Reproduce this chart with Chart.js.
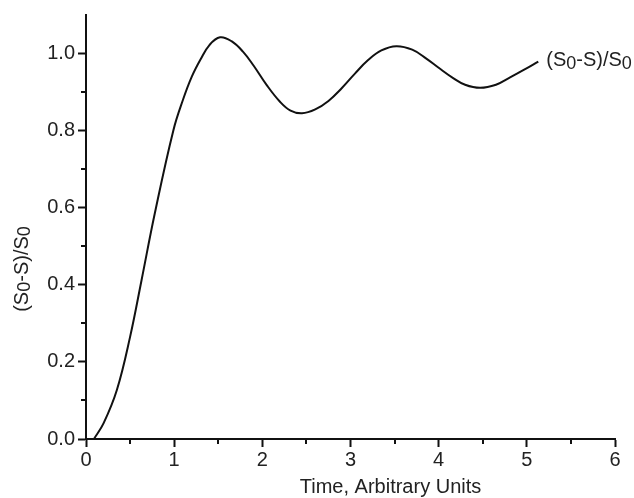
<!DOCTYPE html>
<html>
<head>
<meta charset="utf-8">
<script src="https://cdn.jsdelivr.net/npm/chart.js@4.4.1/dist/chart.umd.min.js"></script>
<style>
  html, body { margin: 0; padding: 0; background: #fff; }
  #wrap { width: 634px; height: 498px; }
</style>
</head>
<body>
<div id="wrap"><canvas id="response"></canvas></div>
<script>
// response curve, time in arbitrary units
const timeValues = [0.09, 0.2, 0.35, 0.5, 0.63, 0.78, 0.99, 1.1, 1.2, 1.3, 1.4, 1.52, 1.65, 1.78, 1.9, 2.05, 2.2, 2.32, 2.45, 2.6, 2.75, 2.9, 3.05, 3.2, 3.35, 3.52, 3.7, 3.86, 4.0, 4.16, 4.3, 4.47, 4.65, 4.81, 4.97, 5.13];
const signalValues = [0, 0.041, 0.127, 0.265, 0.412, 0.585, 0.8, 0.88, 0.94, 0.985, 1.022, 1.042, 1.032, 1.005, 0.969, 0.918, 0.875, 0.852, 0.845, 0.855, 0.877, 0.91, 0.948, 0.983, 1.008, 1.019, 1.01, 0.987, 0.963, 0.937, 0.919, 0.911, 0.919, 0.938, 0.958, 0.979];

const xMajorTicks = [0, 1, 2, 3, 4, 5, 6];
const xMinorTicks = [0.5, 1.5, 2.5, 3.5, 4.5, 5.5];
const yMajorTicks = [0, 0.2, 0.4, 0.6, 0.8, 1.0];
const yMinorTicks = [0.1, 0.3, 0.5, 0.7, 0.9];

const seriesName = ['(S', '0', '-S)/S', '0'];
const xTitle = 'Time, Arbitrary Units';

const FONT = '"Liberation Sans", Arial, sans-serif';
const SIZE = 20;

// draws text pieces, every second piece lowered like a subscript
function drawSubText(ctx, parts, x, y) {
  let cx = x;
  parts.forEach((p, i) => {
    const sub = i % 2 === 1;
    ctx.font = (sub ? SIZE - 2 : SIZE) + 'px ' + FONT;
    ctx.fillText(p, cx, y + (sub ? 3 : 0));
    cx += ctx.measureText(p).width;
  });
}

function subTextWidth(ctx, parts) {
  let w = 0;
  parts.forEach((p, i) => {
    ctx.font = (i % 2 === 1 ? SIZE - 2 : SIZE) + 'px ' + FONT;
    w += ctx.measureText(p).width;
  });
  return w;
}

const extras = {
  id: 'extras',
  afterDraw(chart) {
    const ctx = chart.ctx;
    const xs = chart.scales.x, ys = chart.scales.y;
    const x0 = xs.left, y0 = ys.bottom;
    ctx.save();
    ctx.strokeStyle = '#111';
    ctx.lineWidth = 2;
    // minor ticks
    ctx.beginPath();
    xMinorTicks.forEach(v => {
      const px = Math.round(xs.getPixelForValue(v));
      ctx.moveTo(px, y0);
      ctx.lineTo(px, y0 + 5);
    });
    yMinorTicks.forEach(v => {
      const py = Math.round(ys.getPixelForValue(v));
      ctx.moveTo(x0, py);
      ctx.lineTo(x0 - 5, py);
    });
    ctx.stroke();

    ctx.fillStyle = '#222';
    ctx.textBaseline = 'middle';
    ctx.textAlign = 'left';
    // series label at the curve end
    const n = timeValues.length - 1;
    const lx = xs.getPixelForValue(timeValues[n]) + 8;
    const ly = ys.getPixelForValue(signalValues[n]) - 1;
    drawSubText(ctx, seriesName, lx, ly);

    // x axis title
    ctx.font = SIZE + 'px ' + FONT;
    ctx.textAlign = 'center';
    ctx.textBaseline = 'alphabetic';
    ctx.fillText(xTitle, (xs.left + xs.right) / 2 + 40, 493);

    // y axis title, rotated
    ctx.textAlign = 'left';
    ctx.textBaseline = 'middle';
    const w = subTextWidth(ctx, seriesName);
    ctx.translate(22, (ys.top + ys.bottom) / 2 + 42);
    ctx.rotate(-Math.PI / 2);
    drawSubText(ctx, seriesName, -w / 2, 0);
    ctx.restore();
  }
};

new Chart(document.getElementById('response'), {
  type: 'scatter',
  data: {
    datasets: [{
      data: timeValues.map((t, i) => ({ x: t, y: signalValues[i] })),
      showLine: true,
      borderColor: '#111',
      borderWidth: 2,
      pointRadius: 0,
      tension: 0.4
    }]
  },
  options: {
    responsive: true,
    maintainAspectRatio: false,
    animation: false,
    layout: { padding: { top: 15, right: 19, left: 0, bottom: 0 } },
    plugins: { legend: { display: false }, tooltip: { enabled: false } },
    scales: {
      x: {
        type: 'linear',
        min: 0, max: 6,
        afterBuildTicks: s => { s.ticks = xMajorTicks.map(v => ({ value: v })); },
        afterFit: s => { s.height = 59; },
        border: { display: true, color: '#111', width: 2 },
        grid: { drawOnChartArea: false, tickLength: 8, tickWidth: 2, tickColor: '#111' },
        ticks: { color: '#222', font: { family: FONT, size: SIZE }, padding: 1, maxRotation: 0 }
      },
      y: {
        min: 0, max: 1.1,
        afterBuildTicks: s => { s.ticks = yMajorTicks.map(v => ({ value: v })); },
        afterFit: s => { s.width = 86; },
        border: { display: true, color: '#111', width: 2 },
        grid: { drawOnChartArea: false, tickLength: 8, tickWidth: 2, tickColor: '#111' },
        ticks: { color: '#222', font: { family: FONT, size: SIZE }, padding: 3, callback: v => v.toFixed(1) }
      }
    }
  },
  plugins: [extras]
});
</script>
</body>
</html>
